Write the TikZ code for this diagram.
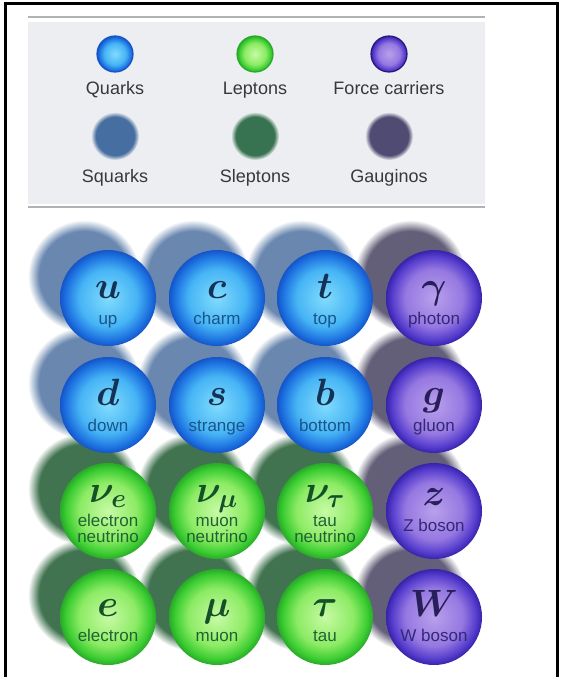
\RequirePackage{fix-cm}
\documentclass[tikz,border=0pt]{standalone}
\usepackage{fontspec}
\setmainfont{Liberation Sans}
\usepackage{amsmath}
\usepackage{tikz}
\usetikzlibrary{fadings}

\definecolor{qin}{RGB}{130,220,252}
\definecolor{qmid}{RGB}{70,180,245}
\definecolor{qrim}{RGB}{30,115,225}
\definecolor{qedge}{RGB}{20,85,200}
\definecolor{lin}{RGB}{200,250,165}
\definecolor{lmid}{RGB}{140,235,100}
\definecolor{lrim}{RGB}{60,205,50}
\definecolor{ledge}{RGB}{40,170,40}
\definecolor{bin}{RGB}{185,160,235}
\definecolor{bmid}{RGB}{150,120,225}
\definecolor{brim}{RGB}{85,60,205}
\definecolor{bedge}{RGB}{55,35,170}
\definecolor{qshadec}{RGB}{105,135,175}
\definecolor{lshadec}{RGB}{65,115,80}
\definecolor{bshadec}{RGB}{100,95,120}
\definecolor{squarkc}{RGB}{70,110,160}
\definecolor{sleptonc}{RGB}{55,115,80}
\definecolor{gauginoc}{RGB}{80,75,115}
\definecolor{panelgray}{RGB}{236,238,241}
\definecolor{qtext}{RGB}{25,85,140}
\definecolor{ltext}{RGB}{30,100,50}
\definecolor{btext}{RGB}{50,40,120}
\definecolor{qsym}{RGB}{20,50,85}
\definecolor{lsym}{RGB}{20,80,40}
\definecolor{bsym}{RGB}{40,30,90}

\pgfdeclareradialshading{quarkball}{\pgfpoint{0bp}{0bp}}{color(0bp)=(qin); color(15bp)=(qmid); color(22bp)=(qrim); color(25bp)=(qedge); color(50bp)=(qedge)}
\pgfdeclareradialshading{leptonball}{\pgfpoint{0bp}{0bp}}{color(0bp)=(lin); color(15bp)=(lmid); color(22bp)=(lrim); color(25bp)=(ledge); color(50bp)=(ledge)}
\pgfdeclareradialshading{bosonball}{\pgfpoint{0bp}{0bp}}{color(0bp)=(bin); color(15bp)=(bmid); color(22bp)=(brim); color(25bp)=(bedge); color(50bp)=(bedge)}

\tikzset{
    ball/.style={circle, minimum size=96pt, inner sep=0pt},
    quark/.style={ball, shading=quarkball},
    lepton/.style={ball, shading=leptonball},
    boson/.style={ball, shading=bosonball},
    blur/.style={path fading=circle with fuzzy edge 20 percent},
    sym/.style={anchor=base, font=\fontsize{38}{38}\selectfont\boldmath},
    pname/.style={anchor=base, font=\fontsize{17}{18}\selectfont},
    legtext/.style={anchor=base, text=black!78, font=\fontsize{18}{20}\selectfont},
}

\begin{document}
\begin{tikzpicture}[x=1pt, y=-1pt]
    \useasboundingbox (0,0) rectangle (568,677);
    \draw[line width=3pt] (5,677) -- (5,4) -- (557,4) -- (557,677);

    % legend
    \fill[panelgray] (28,22) rectangle (485,204);
    \draw[black!30, line width=2pt] (28,17) -- (485,17);
    \draw[black!30, line width=2pt] (28,207) -- (485,207);

    \node[quark, minimum size=36pt, draw=qedge, line width=1.2pt] at (115,54) (lq) {};
    \node[lepton, minimum size=36pt, draw=ledge, line width=1.2pt] at (255,54) (ll) {};
    \node[boson, minimum size=36pt, draw=bedge!70!black, line width=1.2pt] at (389,54) (lb) {};
    \node[legtext] at (115,94) (lq-t) {Quarks};
    \node[legtext] at (255,94) (ll-t) {Leptons};
    \node[legtext] at (389,94) (lb-t) {Force carriers};

    \fill[squarkc, blur] (115,136) circle (24);
    \fill[sleptonc, blur] (255,136) circle (24);
    \fill[gauginoc, blur] (389,136) circle (24);
    \node[legtext] at (115,182) (ls-t) {Squarks};
    \node[legtext] at (255,182) (lsl-t) {Sleptons};
    \node[legtext] at (389,182) (lg-t) {Gauginos};

    % shadows
    \fill[qshadec, blur] (84,276) circle (56);
    \fill[qshadec, blur] (193,276) circle (56);
    \fill[qshadec, blur] (301,276) circle (56);
    \fill[bshadec, blur] (410,276) circle (56);
    \fill[qshadec, blur] (84,383) circle (56);
    \fill[qshadec, blur] (193,383) circle (56);
    \fill[qshadec, blur] (301,383) circle (56);
    \fill[bshadec, blur] (410,383) circle (56);
    \fill[lshadec, blur] (84,489) circle (56);
    \fill[lshadec, blur] (193,489) circle (56);
    \fill[lshadec, blur] (301,489) circle (56);
    \fill[bshadec, blur] (410,489) circle (56);
    \fill[lshadec, blur] (84,595) circle (56);
    \fill[lshadec, blur] (193,595) circle (56);
    \fill[lshadec, blur] (301,595) circle (56);
    \fill[bshadec, blur] (410,595) circle (56);

    % quarks
    \node[quark] at (108,298) (up) {};
    \node[quark] at (217,298) (charm) {};
    \node[quark] at (325,298) (top) {};
    \node[quark] at (108,405) (down) {};
    \node[quark] at (217,405) (strange) {};
    \node[quark] at (325,405) (bottom) {};
    % leptons
    \node[lepton] at (108,511) (nue) {};
    \node[lepton] at (217,511) (numu) {};
    \node[lepton] at (325,511) (nutau) {};
    \node[lepton] at (108,617) (elec) {};
    \node[lepton] at (217,617) (muon) {};
    \node[lepton] at (325,617) (tau) {};
    % force carriers
    \node[boson] at (434,298) (photon) {};
    \node[boson] at (434,405) (gluon) {};
    \node[boson] at (434,511) (zbos) {};
    \node[boson] at (434,617) (wbos) {};

    \node[sym, text=qsym] at (108,298) (up-s) {$u$};
    \node[pname, text=qtext] at (108,324) (up-n) {up};
    \node[sym, text=qsym] at (217,298) (charm-s) {$c$};
    \node[pname, text=qtext] at (217,324) (charm-n) {charm};
    \node[sym, text=qsym] at (325,298) (top-s) {$t$};
    \node[pname, text=qtext] at (325,324) (top-n) {top};
    \node[sym, text=qsym] at (108,405) (down-s) {$d$};
    \node[pname, text=qtext] at (108,431) (down-n) {down};
    \node[sym, text=qsym] at (217,405) (strange-s) {$s$};
    \node[pname, text=qtext] at (217,431) (strange-n) {strange};
    \node[sym, text=qsym] at (325,405) (bottom-s) {$b$};
    \node[pname, text=qtext] at (325,431) (bottom-n) {bottom};

    \node[sym, text=lsym] at (108,502) (nue-s) {$\nu_e$};
    \node[pname, text=ltext] at (108,526) (nue-n1) {electron};
    \node[pname, text=ltext] at (108,542) (nue-n2) {neutrino};
    \node[sym, text=lsym] at (217,502) (numu-s) {$\nu_\mu$};
    \node[pname, text=ltext] at (217,526) (numu-n1) {muon};
    \node[pname, text=ltext] at (217,542) (numu-n2) {neutrino};
    \node[sym, text=lsym] at (325,502) (nutau-s) {$\nu_\tau$};
    \node[pname, text=ltext] at (325,526) (nutau-n1) {tau};
    \node[pname, text=ltext] at (325,542) (nutau-n2) {neutrino};
    \node[sym, text=lsym] at (108,616) (elec-s) {$e$};
    \node[pname, text=ltext] at (108,641) (elec-n) {electron};
    \node[sym, text=lsym] at (217,616) (muon-s) {$\mu$};
    \node[pname, text=ltext] at (217,641) (muon-n) {muon};
    \node[sym, text=lsym] at (325,616) (tau-s) {$\tau$};
    \node[pname, text=ltext] at (325,641) (tau-n) {tau};

    \node[sym, text=bsym] at (434,298) (photon-s) {$\gamma$};
    \node[pname, text=btext] at (434,324) (photon-n) {photon};
    \node[sym, text=bsym] at (434,405) (gluon-s) {$g$};
    \node[pname, text=btext] at (434,431) (gluon-n) {gluon};
    \node[sym, text=bsym] at (434,505) (zbos-s) {$z$};
    \node[pname, text=btext] at (434,531) (zbos-n) {Z boson};
    \node[sym, text=bsym] at (434,616) (wbos-s) {$W$};
    \node[pname, text=btext] at (434,641) (wbos-n) {W boson};
\end{tikzpicture}
\end{document}
